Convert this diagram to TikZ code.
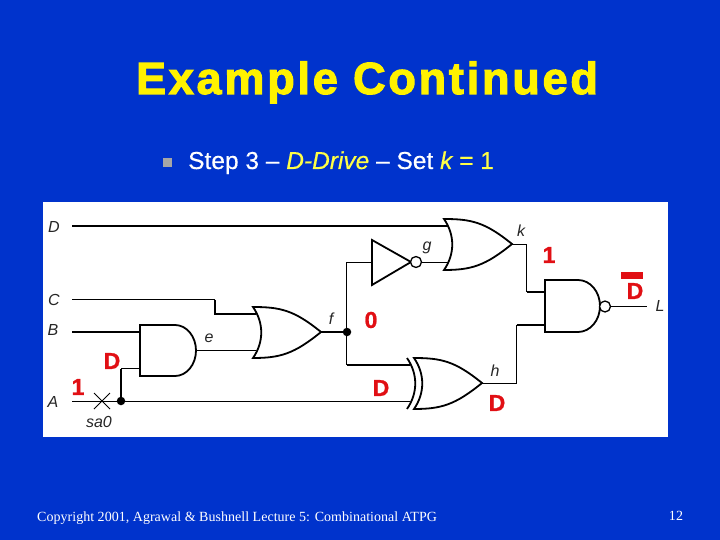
\documentclass[tikz,border=0pt]{standalone}
\usepackage{fontspec}
\setmainfont{Liberation Sans}
\newfontfamily\serifrm[LetterSpace=0.2]{Liberation Serif}
\newfontfamily\titlerm[BoldFeatures={LetterSpace=6.2,FakeBold=2.5}]{Liberation Sans}
\newfontfamily\valrm[BoldFeatures={FakeBold=1}]{Liberation Sans}
\newfontfamily\steprm[FakeBold=0.4,ItalicFeatures={FakeBold=0.4}]{Liberation Sans}
\definecolor{slideblue}{RGB}{0,51,204}
\definecolor{softyellow}{RGB}{255,255,70}
\definecolor{valred}{RGB}{225,15,20}
\tikzset{
	wire/.style={line width=0.9pt,line join=miter},
	bus/.style={line width=1.9pt,line join=miter},
	gate/.style={line width=1.8pt,fill=white,line join=miter},
	pinlabel/.style={font=\fontsize{16}{16}\selectfont\itshape,inner sep=0pt,black!85},
	val/.style={font=\fontsize{23}{23}\selectfont\valrm\bfseries,inner sep=0pt,valred},
	joint/.style={circle,fill=black,inner sep=0pt,minimum size=8.5pt},
	bubble/.style={circle,draw,line width=1.3pt,fill=white,inner sep=0pt,minimum size=11pt}
}
\begin{document}
\begin{tikzpicture}[x=1pt,y=-1pt]
	\useasboundingbox (0,0) rectangle (720,540);
	\fill[slideblue] (0,0) rectangle (720,540);
	\fill[white] (43,202) rectangle (668,437);

	% slide texts
	\node[inner sep=0pt,anchor=base,text=yellow] (title) at (367,94) {\fontsize{45}{45}\selectfont\titlerm\bfseries Example Continued};
	\node[fill=black!35,inner sep=0pt,minimum size=9pt] (bullet) at (167,163) {};
	\node[inner sep=0pt,anchor=base west,text=white] (stepline) at (188,169) {\fontsize{24.5}{24.5}\selectfont\steprm Step 3 – \textcolor{softyellow}{\itshape D-Drive} – Set \textcolor{softyellow}{\itshape k} \textcolor{softyellow}{= 1}};
	\node[inner sep=0pt,anchor=base west,text=white] (footer) at (37,521) {\fontsize{14}{14}\selectfont\serifrm Copyright 2001, Agrawal \& Bushnell Lecture 5: Combinational ATPG};
	\node[inner sep=0pt,text=white] (pagenum) at (676,516) {\fontsize{14}{14}\selectfont\serifrm 12};

	% pins
	\coordinate (inD) at (72,226);
	\coordinate (inC) at (72,299.5);
	\coordinate (inB) at (72,332);
	\coordinate (inA) at (72,401.5);
	\coordinate (cbend1) at (215,299.5);
	\coordinate (cbend2) at (215,314);
	\coordinate (orC) at (256,314);
	\coordinate (orE) at (256,350.5);
	\coordinate (andB) at (140,332);
	\coordinate (andA) at (140,368.5);
	\coordinate (andOut) at (196,350.5);
	\coordinate (orOut) at (321,332);
	\coordinate (abend) at (121,368.5);
	\coordinate (fup) at (346.5,262.5);
	\coordinate (fdown) at (346.5,365);
	\coordinate (invIn) at (372,262.5);
	\coordinate (invTip) at (411,262.5);
	\coordinate (korD) at (448,226);
	\coordinate (korG) at (448,262.5);
	\coordinate (korOut) at (512,244.5);
	\coordinate (kbend1) at (526.5,244.5);
	\coordinate (kbend2) at (526.5,292);
	\coordinate (nandK) at (545,292);
	\coordinate (nandH) at (545,325);
	\coordinate (xorF) at (410,365);
	\coordinate (xorA) at (410,401.5);
	\coordinate (xorOut) at (482,383.5);
	\coordinate (hbend1) at (516.5,383.5);
	\coordinate (hbend2) at (516.5,325);
	\coordinate (outL) at (647,306.5);
	\coordinate (fault) at (102,401);

	% wires
	\draw[bus] (inD) -- (korD);
	\draw[wire] (inC) -- (cbend1);
	\draw[bus] (cbend1) -- (cbend2) -- (orC);
	\draw[bus] (inB) -- (andB);
	\draw[wire] (andOut) -- (orE);
	\draw[wire] (inA) -- (xorA);
	\draw[bus] (orOut) -- (347,332);
	\draw[wire] (invIn) -- (fup) -- (fdown);
	\draw[bus] (fdown) -- (xorF);
	\draw[bus] (121,401) -- (abend);
	\draw[wire] (abend) -- (andA);
	\draw[wire] (invTip) -- (korG);
	\draw[wire] (korOut) -- (kbend1) -- (kbend2);
	\draw[bus] (kbend2) -- (nandK);
	\draw[wire] (xorOut) -- (hbend1) -- (hbend2);
	\draw[bus] (hbend2) -- (nandH);
	\draw[wire] (600,306.5) -- (outL);

	% gates
	\draw[gate] (140,325) -- (175,325) arc (-90:90:21 and 25.5) -- (140,376) -- cycle;
	\draw[gate] (253,307) .. controls (280,307) and (294,310) .. (321,332) .. controls (294,354) and (280,358) .. (253,358) .. controls (264,342) and (264,323) .. (253,307) -- cycle;
	\draw[gate] (372,240) -- (411,262) -- (372,285) -- cycle;
	\node[bubble] (invbub) at (416,262) {};
	\draw[gate] (444,219) .. controls (471,219) and (485,222) .. (512,244) .. controls (485,266) and (471,270) .. (444,270) .. controls (455,254) and (455,235) .. (444,219) -- cycle;
	\draw[gate] (414,358) .. controls (441,358) and (455,361) .. (482,383) .. controls (455,405) and (441,409) .. (414,409) .. controls (425,393) and (425,374) .. (414,358) -- cycle;
	\draw[line width=1.8pt] (407,358) .. controls (418,374) and (418,393) .. (407,409);
	\draw[gate] (545,280) -- (578,280) arc (-90:90:22 and 26) -- (545,332) -- cycle;
	\node[bubble] (nandbub) at (605,306.5) {};

	% joints and fault mark
	\node[joint] (fjoint) at (347,332) {};
	\node[joint] (ajoint) at (121,401) {};
	\draw[line width=1pt] ([shift={(-8,-8)}]fault) -- ([shift={(8,8)}]fault);
	\draw[line width=1pt] ([shift={(-8,8)}]fault) -- ([shift={(8,-8)}]fault);

	% labels
	\node[pinlabel] (labD) at (54,227) {D};
	\node[pinlabel] (labC) at (54,300) {C};
	\node[pinlabel] (labB) at (53,330) {B};
	\node[pinlabel] (labA) at (53,402) {A};
	\node[pinlabel] (labe) at (209,338) {e};
	\node[pinlabel] (labf) at (331,319) {f};
	\node[pinlabel] (labsa) at (99,422) {sa0};
	\node[pinlabel] (labg) at (427,248) {g};
	\node[pinlabel] (labk) at (521,231) {k};
	\node[pinlabel] (labh) at (495,371) {h};
	\node[pinlabel] (labL) at (660,306) {L};

	% values
	\node[val] (valA) at (78,387) {1};
	\node[val] (valAnd) at (112,361) {D};
	\node[val] (valF) at (371,320) {0};
	\node[val] (valXor) at (381,388) {D};
	\node[val] (valK) at (549,255) {1};
	\node[val] (valH) at (497,403) {D};
	\node[val] (valOut) at (635,291) {D};
	\fill[valred] (621,272) rectangle (643,279);
\end{tikzpicture}
\end{document}
